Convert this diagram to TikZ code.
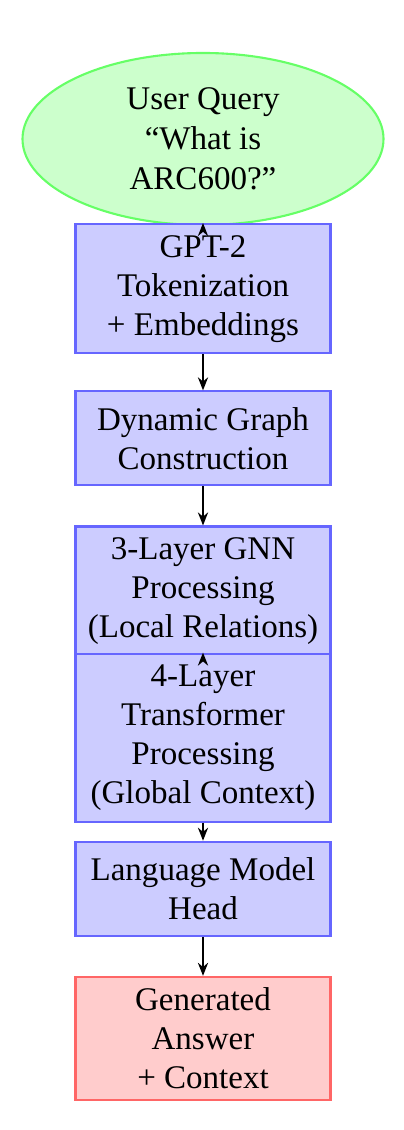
\documentclass[tikz,border=0pt]{standalone}
\usepackage{fontspec}
\setmainfont{Liberation Serif}
\usetikzlibrary{shapes.geometric, arrows.meta, positioning}

\begin{document}
\begin{tikzpicture}[
    node distance=0.38cm,
    box/.style={rectangle, draw=blue!60, fill=blue!20, line width=0.6pt, minimum width=2.55cm, minimum height=0.94cm, inner sep=3.15pt, align=center, font=\fontsize{9.4}{11.1}\selectfont},
    query/.style={ellipse, draw=green!60, fill=green!20, line width=0.6pt, minimum width=3.61cm, minimum height=1.72cm, inner sep=0pt, align=center, font=\fontsize{9.4}{11.3}\selectfont},
    arrow/.style={-{Stealth[length=3.7pt, width=2.9pt]}, line width=0.55pt},
]
\useasboundingbox (0,0) rectangle (4.03,-11.30);

% Nodes
\node[query] (query) at (2.03,-1.39) {User Query\\“What is\\ARC600?”};
\node[box, below=-0.03cm of query] (tokens) {GPT-2\\Tokenization\\+ Embeddings};
\node[box, below=0.36cm of tokens] (graph) {Dynamic Graph\\Construction};
\node[box, below=0.39cm of graph] (gnn) {3-Layer GNN\\Processing\\(Local Relations)};
\node[box, below=-0.04cm of gnn] (transformer) {4-Layer\\Transformer\\Processing\\(Global Context)};
\node[box, below=0.18cm of transformer] (head) {Language Model\\Head};
\node[box, draw=red!60, fill=red!20, below=0.39cm of head] (answer) {Generated\\Answer\\+ Context};

% Arrows
\draw[arrow] (query) -- (tokens);
\draw[arrow] (tokens) -- (graph);
\draw[arrow] (graph) -- (gnn);
\draw[arrow] (gnn) -- (transformer);
\draw[arrow] (transformer) -- (head);
\draw[arrow] (head) -- (answer);

\end{tikzpicture}
\end{document}
